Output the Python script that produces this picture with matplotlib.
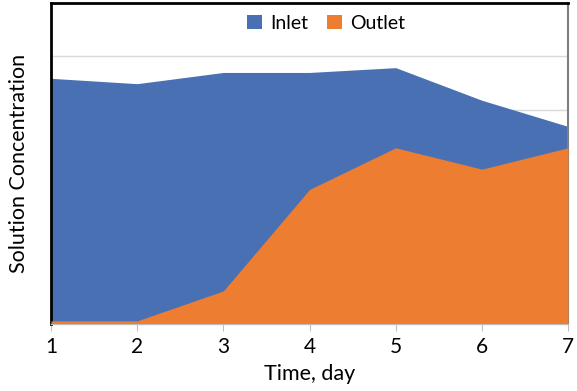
import matplotlib.pyplot as plt
import numpy as np

plt.rcParams['font.family'] = ['Lato', 'DejaVu Sans']

days = [1, 2, 3, 4, 5, 6, 7]
inlet = [4.59, 4.49, 4.70, 4.70, 4.79, 4.18, 3.69]
outlet = [0.05, 0.05, 0.61, 2.51, 3.29, 2.89, 3.29]

fig = plt.figure(figsize=(5.77, 3.91), dpi=100)
ax = fig.add_axes([0.0884, 0.1726, 0.896, 0.8197])

ax.fill_between(days, 0, inlet, color="#4A70B4", lw=0, label="Inlet", zorder=2)
ax.fill_between(days, 0, outlet, color="#EC7D31", lw=0, label="Outlet", zorder=3)

ax.set_xlim(1, 7)
ax.set_ylim(0, 6)
ax.set_xticks(days)
ax.set_yticks(np.arange(0, 7, 1))
ax.set_yticklabels([])
ax.tick_params(axis="y", length=0)
ax.tick_params(axis="x", length=5, color="#BFBFBF", labelsize=15, pad=5)
ax.grid(axis="y", color="#D9D9D9", lw=1, zorder=0)
ax.set_axisbelow(True)

ax.spines["left"].set_color("black")
ax.spines["left"].set_linewidth(2)
ax.spines["top"].set_color("black")
ax.spines["top"].set_linewidth(2)
ax.spines["right"].set_color("#7F7F7F")
ax.spines["right"].set_linewidth(1.5)
ax.spines["bottom"].set_color("#BFBFBF")
ax.spines["bottom"].set_linewidth(1)

ax.set_xlabel("Time, day", fontsize=15.5, labelpad=5)
ax.set_ylabel("Solution Concentration", fontsize=15.5, labelpad=12)

ax.legend(loc="upper center", bbox_to_anchor=(0.532, 1.0), ncol=2,
          frameon=False, fontsize=14,
          handlelength=0.75, handleheight=0.75, handletextpad=0.4,
          columnspacing=1.0, borderaxespad=0.2)

fig.savefig("out.png", dpi=100)
